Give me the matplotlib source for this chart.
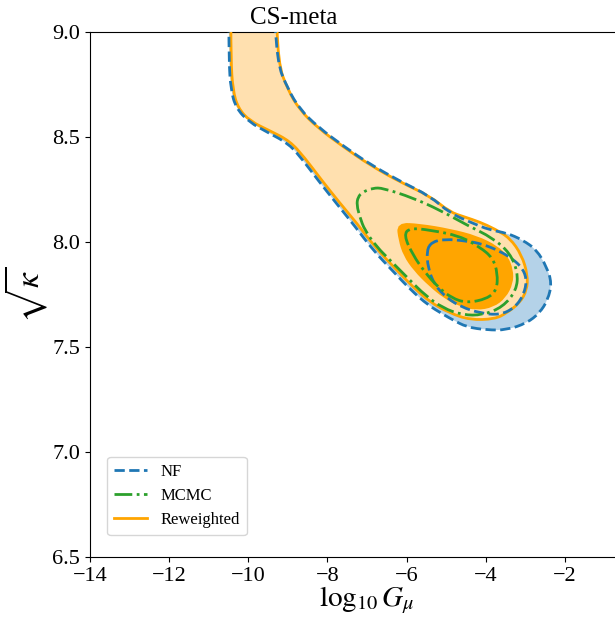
import matplotlib.pyplot as plt
from matplotlib.lines import Line2D
from matplotlib.path import Path
from matplotlib.patches import PathPatch

plt.rcParams['font.family'] = ['Liberation Serif', 'DejaVu Serif']
plt.rcParams['mathtext.fontset'] = 'stix'

# contour outlines (log10 G_mu, sqrt kappa)
rw_outer_x = [-10.44, -10.44, -10.39, -10.26, -9.96, -9.45, -8.95, -8.57, -8.19, -7.69,
              -7.26, -6.80, -6.30, -5.84, -5.41, -4.91, -4.40, -3.77, -3.47, -3.14,
              -2.96, -2.94, -3.09, -3.39, -3.77, -4.15, -4.53, -4.91, -5.41, -6.17,
              -6.93, -7.56, -8.24, -8.70, -9.00, -9.25, -9.30]
rw_outer_y = [9.20, 8.867, 8.724, 8.638, 8.576, 8.529, 8.481, 8.400, 8.305, 8.186,
              8.090, 7.976, 7.876, 7.786, 7.714, 7.662, 7.629, 7.633, 7.662, 7.710,
              7.771, 7.843, 7.938, 8.019, 8.062, 8.095, 8.119, 8.143, 8.219, 8.286,
              8.367, 8.448, 8.543, 8.629, 8.724, 8.852, 9.20]

rw_inner_x = [-6.22, -6.17, -6.05, -5.79, -5.41, -5.04, -4.66, -4.23, -3.82, -3.52,
              -3.34, -3.34, -3.47, -3.72, -4.23, -4.91, -5.67]
rw_inner_y = [8.086, 8.010, 7.938, 7.867, 7.795, 7.738, 7.700, 7.681, 7.695, 7.738,
              7.805, 7.867, 7.929, 7.976, 8.024, 8.057, 8.081]

nf_outer_x = [-10.49, -10.49, -10.44, -10.31, -9.98, -9.48, -8.97, -8.62, -8.24, -7.74,
              -7.31, -6.85, -6.35, -5.89, -5.46, -5.09, -4.83, -4.48, -3.97, -3.47,
              -2.96, -2.64, -2.43, -2.33, -2.46, -2.71, -3.07, -3.47, -3.90, -4.40,
              -4.91, -5.41, -6.17, -6.93, -7.56, -8.24, -8.70, -9.00, -9.28, -9.35]
nf_outer_y = [9.20, 8.867, 8.724, 8.638, 8.571, 8.519, 8.467, 8.390, 8.295, 8.176,
              8.076, 7.962, 7.862, 7.771, 7.700, 7.657, 7.629, 7.595, 7.581, 7.581,
              7.614, 7.662, 7.724, 7.805, 7.881, 7.962, 8.010, 8.043, 8.057, 8.095,
              8.138, 8.219, 8.290, 8.371, 8.452, 8.548, 8.633, 8.729, 8.857, 9.20]

nf_inner_x = [-5.49, -5.46, -5.29, -4.98, -4.61, -4.15, -3.65, -3.27, -3.04, -2.96,
              -3.07, -3.32, -3.65, -4.08, -4.48, -5.04, -5.36]
nf_inner_y = [7.962, 7.876, 7.795, 7.733, 7.690, 7.662, 7.652, 7.686, 7.748, 7.819,
              7.876, 7.919, 7.957, 7.990, 8.005, 8.014, 8.000]

mc_outer_x = [-7.26, -7.23, -7.11, -6.85, -6.60, -5.84, -5.16, -4.48, -3.82, -3.39,
              -3.19, -3.22, -3.57, -4.08, -4.58, -5.09, -5.54, -5.92, -6.42, -6.75,
              -7.06, -7.18]
mc_outer_y = [8.176, 8.214, 8.238, 8.257, 8.257, 8.210, 8.152, 8.081, 8.019, 7.948,
              7.857, 7.771, 7.690, 7.652, 7.652, 7.686, 7.748, 7.819, 7.914, 7.976,
              8.057, 8.119]

mc_inner_x = [-6.07, -5.92, -5.41, -4.66, -4.15, -3.82, -3.70, -3.72, -3.97, -4.48,
              -4.86, -5.21, -5.54, -5.84]
mc_inner_y = [8.033, 8.067, 8.057, 8.029, 7.976, 7.924, 7.852, 7.771, 7.729, 7.710,
              7.733, 7.786, 7.857, 7.938]

blue = '#1f77b4'
green = '#2ca02c'
orange = '#ffa500'

fig = plt.figure(figsize=(6.15, 6.19), dpi=100)
ax = fig.add_axes([90/615, 62/619, 554/615, 525/619])


def smooth_path(xs, ys):
    # closed path with quadratic curves through the midpoints of the outline
    pts = list(zip(xs, ys))
    n = len(pts)
    mid = lambda a, b: ((a[0] + b[0]) / 2, (a[1] + b[1]) / 2)
    verts = [mid(pts[-1], pts[0])]
    codes = [Path.MOVETO]
    for i in range(n):
        verts += [pts[i], mid(pts[i], pts[(i + 1) % n])]
        codes += [Path.CURVE3, Path.CURVE3]
    return Path(verts, codes)


def contour(xs, ys, fc, ec, ls, z):
    ax.add_patch(PathPatch(smooth_path(xs, ys), facecolor=fc, edgecolor=ec,
                           lw=2 if ec != 'none' else 0, ls=ls, zorder=z))


# fills
contour(nf_outer_x, nf_outer_y, '#b4d2e8', 'none', '-', 1)
contour(nf_inner_x, nf_inner_y, '#7fb0d6', 'none', '-', 1)
contour(rw_outer_x, rw_outer_y, '#ffe0af', 'none', '-', 2)
contour(rw_inner_x, rw_inner_y, orange, 'none', '-', 2)

# outlines
contour(rw_outer_x, rw_outer_y, 'none', orange, '-', 3)
contour(rw_inner_x, rw_inner_y, 'none', orange, '-', 3)
contour(nf_outer_x, nf_outer_y, 'none', blue, '--', 4)
contour(nf_inner_x, nf_inner_y, 'none', blue, '--', 4)
contour(mc_outer_x, mc_outer_y, 'none', green, '-.', 5)
contour(mc_inner_x, mc_inner_y, 'none', green, '-.', 5)

ax.set_xlim(-14, 0)
ax.set_ylim(6.5, 9.0)
ax.set_xticks([-14, -12, -10, -8, -6, -4, -2])
ax.set_yticks([6.5, 7.0, 7.5, 8.0, 8.5, 9.0])
ax.tick_params(labelsize=16)
ax.set_xlabel(r'$\log_{10} G_{\mu}$', fontsize=21, labelpad=-1)
ax.set_ylabel(r'$\sqrt{\kappa}$', fontsize=24, labelpad=2)
ax.set_title('CS-meta', fontsize=18, x=0.368)

handles = [Line2D([], [], color=blue, lw=2, ls='--'),
           Line2D([], [], color=green, lw=2, ls='-.'),
           Line2D([], [], color=orange, lw=2, ls='-')]
ax.legend(handles, ['NF', 'MCMC', 'Reweighted'], loc='lower left',
          bbox_to_anchor=(0.031, 0.042), borderaxespad=0, fontsize=12)

fig.savefig('out.png', dpi=100)
